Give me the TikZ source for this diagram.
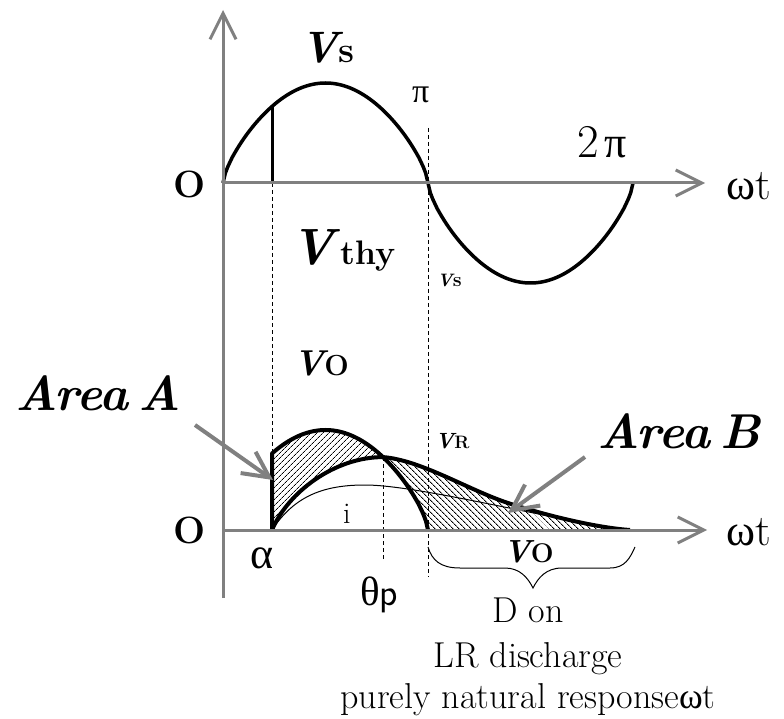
\documentclass[tikz,border=0pt]{standalone}
\usepackage{fontspec}
\newfontfamily\grk{Liberation Serif}
\usetikzlibrary{arrows.meta,patterns.meta}
\definecolor{axgray}{RGB}{128,128,128}
\begin{document}
\begin{tikzpicture}[x=1pt,y=-1pt,
  declare function={fs(\t)=sign(sin(\t))*(abs(sin(\t))+0.00001)^0.7; px(\t)=223+\t*1.138889;},
  lbl/.style={inner sep=0pt,anchor=base west},
  clbl/.style={inner sep=0pt,anchor=base},
  axis/.style={draw=axgray,line width=3pt,-{Straight Barb[length=26pt,width=26pt]}},
  pointer/.style={draw=axgray,line width=4pt,-{Straight Barb[length=26pt,width=26pt]}},
  wave/.style={draw=black,line width=3.5pt,line join=round},
  guide/.style={draw=black,line width=1pt,dash pattern=on 4pt off 3pt},
  hatchA/.style={pattern={Lines[angle=45,distance=4pt,line width=0.8pt]}},
  hatchB/.style={pattern={Lines[angle=-45,distance=4pt,line width=1pt]}}]
\useasboundingbox (0,0) rectangle (784,719);
% coordinates
\coordinate (ybot) at (223,598);
\coordinate (ytop) at (223,10);
\coordinate (o1) at (223,183);
\coordinate (x1end) at (705,183);
\coordinate (o2) at (223,530);
\coordinate (x2end) at (707,530);
\coordinate (al1) at (272,183);
\coordinate (al1t) at (272,106.5);
\coordinate (al2) at (272,530);
\coordinate (al2t) at (272,453.5);
\coordinate (tp) at (383,457.1);
\coordinate (tpb) at (383,560);
\coordinate (pi2) at (428,530);
\coordinate (pitop) at (428,128);
\coordinate (pibot) at (428,577);
\coordinate (mid) at (505,502);
\coordinate (tail) at (630,530);
% hatched areas
\fill[hatchA] (al2) -- (al2t) -- plot[domain=43.024:140.49,samples=40] ({px(\x)},{530-100*fs(\x)})
   .. controls (335,457) and (288,492) .. (al2) -- cycle;
\fill[hatchB] (tp) .. controls (420,460) and (465,488) .. (mid) .. controls (550,517) and (600,528) .. (tail)
   -- (pi2) -- plot[domain=180:140.49,samples=30] ({px(\x)},{530-100*fs(\x)}) -- cycle;
% current i
\draw[line width=1pt] (al2) .. controls (295,495) and (325,485) .. (365,485) .. controls (420,485) and (560,522) .. (tail);
% top source wave
\draw[wave] plot[domain=0:360,samples=181] ({px(\x)},{183-100*fs(\x)});
\draw[line width=3pt] (al1) -- (al1t);
% output waves
\draw[wave,line width=4pt] (al2) -- (al2t) -- plot[domain=43.024:180,samples=80] ({px(\x)},{530-100*fs(\x)});
\draw[wave,line width=4pt] (al2) .. controls (288,492) and (335,457) .. (tp)
   .. controls (420,460) and (465,488) .. (mid) .. controls (550,517) and (600,528) .. (tail);
% guides
\draw[guide] (al1) -- (al2t);
\draw[guide] (pitop) -- (pibot);
\draw[guide] (tp) -- (tpb);
% brace
\draw[line width=1pt] (428,547) .. controls (432,560) and (440,568) .. (460,568) -- (505,568)
   .. controls (520,568) and (528,578) .. (533,588) .. controls (538,578) and (546,568) .. (562,568)
   -- (610,568) .. controls (625,568) and (630,558) .. (635,547);
% axes
\draw[axis] (ybot) -- (ytop);
\draw[axis] (o1) -- (x1end);
\draw[axis] (o2) -- (x2end);
% labels
\node[lbl] (vs) at (300,63) {\fontsize{44}{44}\selectfont\bfseries\itshape V\fontsize{36}{36}\selectfont\upshape s};
\node[lbl] (pi) at (412,103) {\fontsize{34}{34}\selectfont\grk π};
\node[lbl] (twopi) at (577,158) {\fontsize{47}{47}\selectfont 2\hspace{6pt}{\grk\fontsize{44}{44}\selectfont π}};
\node[lbl] (wt1) at (726,200) {\fontsize{44}{44}\selectfont{\grk ω}t};
\node[lbl] (o1l) at (173,198) {\fontsize{38}{38}\selectfont\bfseries O};
\node[lbl] (vthy) at (290,265) {\fontsize{51}{51}\selectfont\bfseries\itshape V\fontsize{34}{34}\selectfont\upshape\,thy};
\node[lbl] (vs2) at (437,287) {\fontsize{18}{18}\selectfont\bfseries\itshape V\fontsize{20}{20}\selectfont\upshape s};
\node[lbl] (vo1) at (293,375) {\fontsize{36}{36}\selectfont\bfseries\itshape V\fontsize{29}{29}\selectfont\upshape O};
\node[lbl] (vr) at (435,448) {\fontsize{22}{22}\selectfont\bfseries\itshape V\fontsize{18}{18}\selectfont\upshape R};
\node[lbl] (areaA) at (15,410) {\fontsize{49}{49}\selectfont\bfseries\itshape Area\hspace{0.2em}A};
\node[lbl] (areaB) at (597,448) {\fontsize{49}{49}\selectfont\bfseries\itshape Area\hspace{0.2em}B};
\node[lbl] (o2l) at (173,543) {\fontsize{38}{38}\selectfont\bfseries O};
\node[lbl] (alpha) at (250,568) {\fontsize{44}{44}\selectfont\grk α};
\node[lbl] (thp) at (360,605) {\fontsize{41}{41}\selectfont\grk θ\fontsize{38}{38}\selectfont\sffamily p};
\node[lbl] (wt2) at (726,545) {\fontsize{44}{44}\selectfont{\grk ω}t};
\node[lbl] (il) at (343,523) {\fontsize{30}{30}\selectfont i};
\node[lbl] (vo2) at (503,562) {\fontsize{32}{32}\selectfont\bfseries\itshape V\fontsize{27}{27}\selectfont\upshape O};
\node[clbl] (don) at (528,622) {\fontsize{36}{36}\selectfont D on};
\node[clbl] (lrd) at (528,667) {\fontsize{36}{36}\selectfont LR discharge};
\node[clbl] (pnr) at (528,708) {\fontsize{36}{36}\selectfont purely natural response{\grk ω}t};
% pointers
\coordinate (aAs) at (195,425);
\coordinate (aAe) at (273,480);
\coordinate (aBs) at (585,457);
\coordinate (aBe) at (508,513);
\draw[pointer] (aAs) -- (aAe);
\draw[pointer] (aBs) -- (aBe);
\end{tikzpicture}
\end{document}
